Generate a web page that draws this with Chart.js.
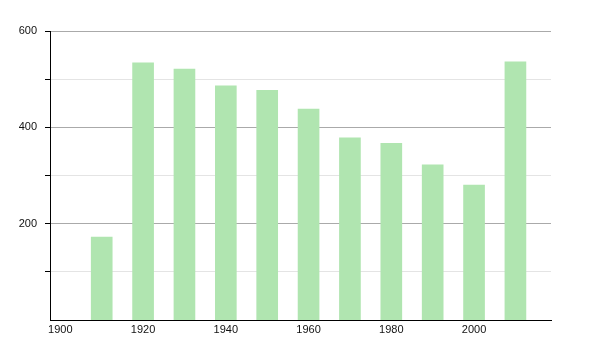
<!DOCTYPE html>
<html>
<head>
<meta charset="utf-8">
<script src="https://cdn.jsdelivr.net/npm/chart.js@4"></script>
<style>
  html, body { margin: 0; padding: 0; background: #fff; }
  #wrap { width: 600px; height: 350px; }
</style>
</head>
<body>
<div id="wrap"><canvas id="chartPoblacion"></canvas></div>
<script>
const years = [1910, 1920, 1930, 1940, 1950, 1960, 1970, 1980, 1990, 2000, 2010];
const values = [172, 534, 521, 486, 477, 438, 378, 367, 322, 280, 536];
const xTicks = [1900, 1920, 1940, 1960, 1980, 2000];
const yTicks = [100, 200, 300, 400, 500, 600];
const yLabels = [200, 400, 600];

const dataPoblacion = {
  datasets: [{
    data: years.map((y, i) => ({ x: y, y: values[i] })),
    backgroundColor: '#b0e5b0',
    borderWidth: 0,
    barThickness: 21
  }]
}

const optionsPoblacion = {
  responsive: false,
  animation: false,
  layout: {
    padding: { top: 31, right: 49, left: 0, bottom: 0 }
  },
  scales: {
    x: {
      type: 'linear',
      offset: false,
      min: 1897.5,
      max: 2018.6,
      afterBuildTicks: (s) => { s.ticks = xTicks.map(v => ({ value: v })) },
      afterFit: (s) => { s.height = 30 },
      grid: { display: false, drawTicks: false, offset: false },
      border: { display: true, color: '#000', width: 1 },
      ticks: {
        color: '#111',
        font: { family: 'Liberation Sans', size: 11 },
        padding: 3,
        maxRotation: 0,
        callback: (v) => String(v)
      }
    },
    y: {
      min: 0,
      max: 600,
      afterBuildTicks: (s) => { s.ticks = yTicks.map(v => ({ value: v })) },
      afterFit: (s) => { s.width = 50 },
      border: { display: true, color: '#000', width: 1 },
      grid: {
        color: (c) => (c.tick && c.tick.value % 200 === 0) ? '#aaaaaa' : '#e4e4e4',
        tickColor: '#000',
        tickLength: 5
      },
      ticks: {
        color: '#111',
        font: { family: 'Liberation Sans', size: 11 },
        padding: 8,
        callback: (v) => yLabels.includes(v) ? String(v) : ''
      }
    }
  },
  plugins: {
    legend: { display: false },
    tooltip: { enabled: false }
  }
}

const ctxPoblacion = document.getElementById("chartPoblacion");
ctxPoblacion.width = 600;
ctxPoblacion.height = 350;

new Chart(ctxPoblacion, {
  type: 'bar',
  data: dataPoblacion,
  options: optionsPoblacion
})
</script>
</body>
</html>
